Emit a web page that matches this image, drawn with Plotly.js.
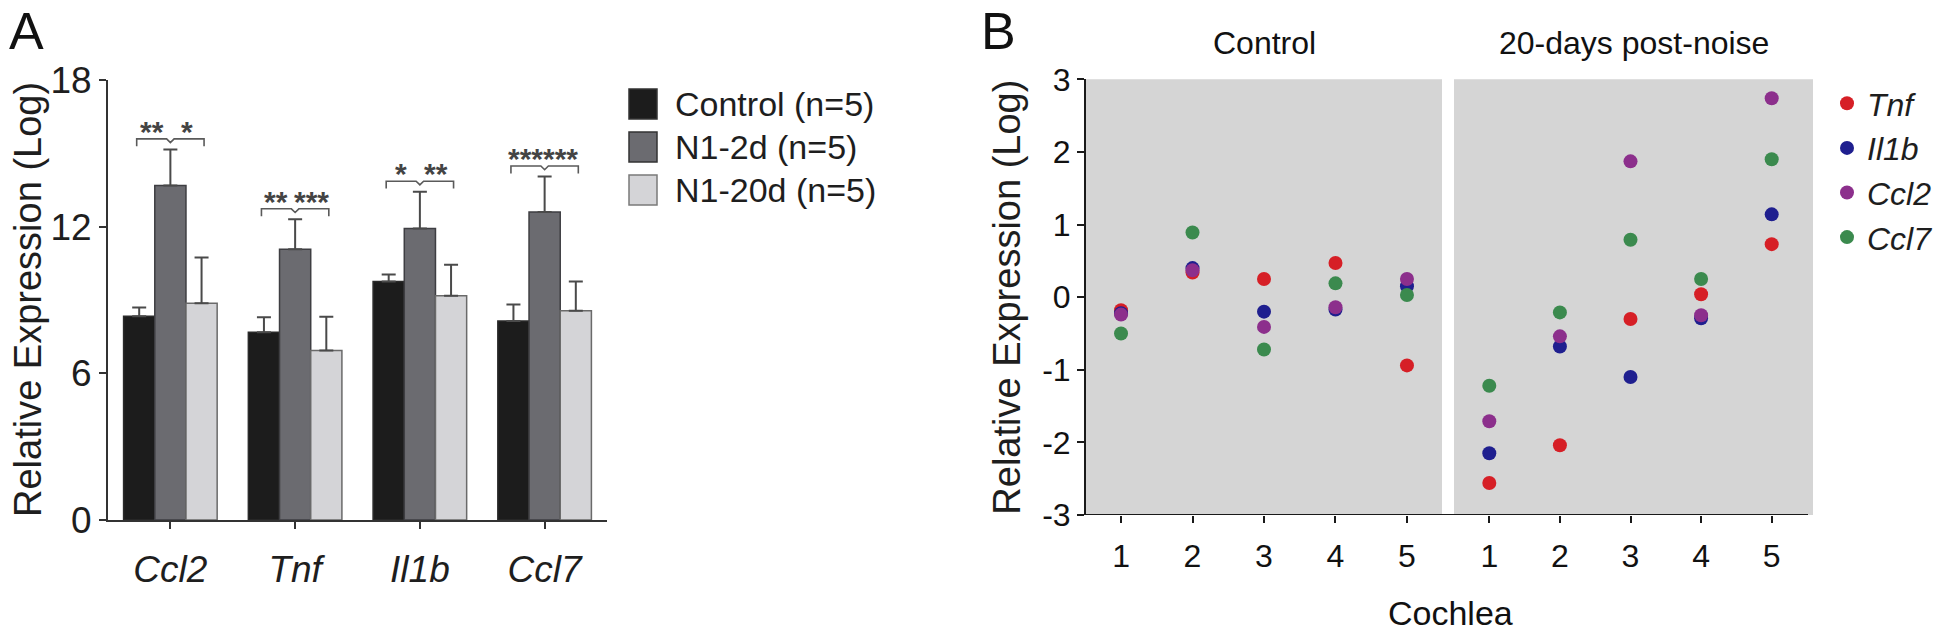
<!DOCTYPE html>
<html>
<head>
<meta charset="utf-8">
<script src="https://cdn.plot.ly/plotly-3.0.1.min.js"></script>
<style>html,body{margin:0;padding:0;background:#fff;}#chart{width:1950px;height:635px;}</style>
</head>
<body>
<div id="chart"></div>
<script>
// ---------- Panel A data ----------
const genes = ['Ccl2', 'Tnf', 'Il1b', 'Ccl7'];
const groupNames = ['Control (n=5)', 'N1-2d (n=5)', 'N1-20d (n=5)'];
const controlVals = [8.34, 7.68, 9.76, 8.14];
const controlErr  = [0.35, 0.61, 0.28, 0.68];
const n2dVals     = [13.68, 11.08, 11.92, 12.60];
const n2dErr      = [1.48, 1.22, 1.51, 1.45];
const n20dVals    = [8.87, 6.93, 9.17, 8.56];
const n20dErr     = [1.87, 1.38, 1.27, 1.20];
const sigLeft  = ['**', '**', '*', '***'];
const sigRight = ['*', '***', '**', '***'];
const yTicksA = [0, 6, 12, 18];
const yTitle = 'Relative Expression (Log)';

// ---------- Panel B data ----------
const cochlea = [1, 2, 3, 4, 5];
const bGenes = ['Tnf', 'Il1b', 'Ccl2', 'Ccl7'];
const ctrlTnf  = [-0.18, 0.34, 0.25, 0.47, -0.94];
const ctrlIl1b = [-0.22, 0.40, -0.20, -0.17, 0.15];
const ctrlCcl2 = [-0.24, 0.37, -0.41, -0.14, 0.25];
const ctrlCcl7 = [-0.50, 0.89, -0.72, 0.19, 0.03];
const postTnf  = [-2.56, -2.04, -0.30, 0.04, 0.73];
const postIl1b = [-2.15, -0.68, -1.10, -0.29, 1.14];
const postCcl2 = [-1.71, -0.54, 1.87, -0.25, 2.74];
const postCcl7 = [-1.22, -0.21, 0.79, 0.25, 1.90];
const yTicksB = [-3, -2, -1, 0, 1, 2, 3];
const yTickTextB = ['-3', '-2', '-1', '0', '1', '2', '3'];
const panelBTitles = ['Control', '20-days post-noise'];

// ---------- helpers ----------
const W = 1950, H = 635;
const PX = v => v / W;
const PY = v => 1 - v / H;
const FONT = 'Liberation Sans, Arial, Helvetica, sans-serif';
const idx = genes.map((g, i) => i);

const barColors = ['#1c1c1c', '#6b6b70', '#d4d4d7'];
const barLines = ['#2a2a2a', '#3e3e42', '#6a6a6a'];
const dotColors = ['#d61f26', '#1f1f8f', '#8c2f8c', '#3b8a4e'];

const traces = [];
const groupVals = [controlVals, n2dVals, n20dVals];
const groupErrs = [controlErr, n2dErr, n20dErr];
groupVals.forEach((vals, g) => {
  traces.push({
    type: 'bar', x: idx, y: vals, name: groupNames[g], showlegend: false,
    xaxis: 'x', yaxis: 'y',
    marker: {color: barColors[g], line: {color: barLines[g], width: 1.5}},
    error_y: {type: 'data', symmetric: false, array: groupErrs[g],
              arrayminus: vals.map(() => 0), color: '#4a4a4a', thickness: 2, width: 7},
    hoverinfo: 'x+y'
  });
});

// significance brackets (computed from bar tops)
const annotations = [];
idx.forEach(i => {
  const top = Math.max(...groupVals.map((v, g) => v[i] + groupErrs[g][i]));
  const by = top + 0.43;
  const d = 0.27, drop = 0.3, notch = 0.15;
  traces.push({
    type: 'scatter', mode: 'lines', xaxis: 'x', yaxis: 'y', showlegend: false, hoverinfo: 'skip',
    x: [i - d, i - d, i - 0.03, i, i + 0.03, i + d, i + d],
    y: [by - drop, by, by, by - notch, by, by, by - drop],
    line: {color: '#5a5a5a', width: 1.6}
  });
  [[sigLeft[i], i - 0.15], [sigRight[i], i + 0.13]].forEach(([t, xx]) => {
    annotations.push({xref: 'x', yref: 'y', x: xx, y: by, text: '<b>' + t + '</b>', showarrow: false,
      xanchor: 'center', yanchor: 'bottom', yshift: -11,
      font: {family: FONT, size: 30, color: '#444'}});
  });
});

// Panel B scatter traces
const ctrlSeries = [ctrlTnf, ctrlIl1b, ctrlCcl2, ctrlCcl7];
const postSeries = [postTnf, postIl1b, postCcl2, postCcl7];
bGenes.forEach((g, k) => {
  traces.push({
    type: 'scatter', mode: 'markers', x: cochlea, y: ctrlSeries[k], name: '<i>' + g + '</i>',
    legendgroup: g, legend: 'legend2', showlegend: true, xaxis: 'x2', yaxis: 'y2',
    marker: {color: dotColors[k], size: 14}
  });
});
bGenes.forEach((g, k) => {
  traces.push({
    type: 'scatter', mode: 'markers', x: cochlea, y: postSeries[k], name: '<i>' + g + '</i>',
    legendgroup: g, legend: 'legend2', showlegend: false, xaxis: 'x3', yaxis: 'y2',
    marker: {color: dotColors[k], size: 14}
  });
});

// Panel A custom legend
const shapes = [];
const legRows = [104, 147, 190];
groupNames.forEach((n, g) => {
  shapes.push({type: 'rect', xref: 'paper', yref: 'paper',
    x0: PX(629), x1: PX(657), y0: PY(legRows[g] + 15), y1: PY(legRows[g] - 15),
    fillcolor: barColors[g], line: {color: g === 2 ? '#7a7a7a' : '#333', width: 1.5}});
  annotations.push({xref: 'paper', yref: 'paper', x: PX(673), y: PY(legRows[g]), text: n,
    showarrow: false, xanchor: 'left', yanchor: 'middle',
    font: {family: FONT, size: 34, color: '#1e1e1e'}});
});

// Panel A y title
annotations.push({xref: 'paper', yref: 'y domain', x: PX(28), y: 0.5, text: yTitle, textangle: -90,
  showarrow: false, xanchor: 'center', yanchor: 'middle', font: {family: FONT, size: 38, color: '#1e1e1e'}});

// Panel B gray backgrounds and continuous x-axis line
['x2', 'x3'].forEach(ax => {
  shapes.push({type: 'rect', xref: ax + ' domain', yref: 'y2 domain', x0: 0, x1: 1, y0: 0, y1: 1,
    fillcolor: '#d5d5d5', line: {width: 0}, layer: 'below'});
});
shapes.push({type: 'line', xref: 'paper', yref: 'y2', x0: PX(1085), x1: PX(1808), y0: -3, y1: -3,
  line: {color: '#1a1a1a', width: 2}});

// Panel B titles
annotations.push({xref: 'x2 domain', yref: 'paper', x: 0.5, y: PY(43), text: panelBTitles[0],
  showarrow: false, xanchor: 'center', yanchor: 'middle', font: {family: FONT, size: 32, color: '#111'}});
annotations.push({xref: 'x3 domain', yref: 'paper', x: 0.5, y: PY(43), text: panelBTitles[1],
  showarrow: false, xanchor: 'center', yanchor: 'middle', font: {family: FONT, size: 32, color: '#111'}});
// Cochlea label
annotations.push({xref: 'paper', yref: 'paper', x: PX(1450), y: PY(613), text: 'Cochlea',
  showarrow: false, xanchor: 'center', yanchor: 'middle', font: {family: FONT, size: 34, color: '#111'}});
// Panel letters
annotations.push({xref: 'paper', yref: 'paper', x: PX(26), y: 1, text: 'A',
  showarrow: false, xanchor: 'center', yanchor: 'top', font: {family: FONT, size: 52, color: '#111'}});
annotations.push({xref: 'paper', yref: 'paper', x: PX(998), y: 1, text: 'B',
  showarrow: false, xanchor: 'center', yanchor: 'top', font: {family: FONT, size: 52, color: '#111'}});

const axA = {showgrid: false, zeroline: false, showline: true, linecolor: '#333', linewidth: 2,
  ticks: 'outside', ticklen: 7, tickwidth: 2, tickcolor: '#333', fixedrange: true};
const axB = {showgrid: false, zeroline: false, ticks: 'outside', ticklen: 7, tickwidth: 2,
  tickcolor: '#1a1a1a', fixedrange: true};

const layout = {
  width: W, height: H, margin: {l: 0, r: 0, t: 0, b: 0},
  paper_bgcolor: '#fff', plot_bgcolor: 'rgba(0,0,0,0)',
  font: {family: FONT, color: '#1e1e1e'},
  barmode: 'group', bargap: 0.25, bargroupgap: 0,
  showlegend: true,
  xaxis: Object.assign({}, axA, {domain: [PX(108), PX(607)], range: [-0.5, 3.5], anchor: 'y',
    tickvals: idx, ticktext: genes.map(g => '<i>' + g + '</i>'), ticklabelstandoff: 9,
    tickfont: {family: FONT, size: 37, color: '#1e1e1e'}}),
  yaxis: Object.assign({}, axA, {domain: [PY(520), PY(80)], range: [0, 18], anchor: 'x',
    tickvals: yTicksA, tickfont: {family: FONT, size: 37, color: '#1e1e1e'}}),
  xaxis2: Object.assign({}, axB, {domain: [PX(1086), PX(1442)], range: [0.51, 5.49], anchor: 'y2',
    tickvals: cochlea, ticklabelstandoff: 6, tickfont: {family: FONT, size: 32, color: '#111'}}),
  xaxis3: Object.assign({}, axB, {domain: [PX(1454), PX(1813)], range: [0.5, 5.585], anchor: 'y2',
    tickvals: cochlea, ticklabelstandoff: 6, tickfont: {family: FONT, size: 32, color: '#111'}}),
  yaxis2: Object.assign({}, axB, {domain: [PY(515), PY(79.3)], range: [-3, 3], anchor: 'x2',
    showline: true, linecolor: '#1a1a1a', linewidth: 2,
    tickvals: yTicksB, ticktext: yTickTextB, tickfont: {family: FONT, size: 32, color: '#111'},
    title: {text: yTitle, font: {family: FONT, size: 38, color: '#1e1e1e'}, standoff: 10}}),
  legend2: {x: PX(1827), y: PY(76), xanchor: 'left', yanchor: 'top', bgcolor: 'rgba(0,0,0,0)',
    font: {family: FONT, size: 32, color: '#1e1e1e'}, tracegroupgap: 0, itemclick: false},
  shapes: shapes,
  annotations: annotations
};

Plotly.newPlot('chart', traces, layout, {staticPlot: true, displayModeBar: false});
</script>
</body>
</html>
